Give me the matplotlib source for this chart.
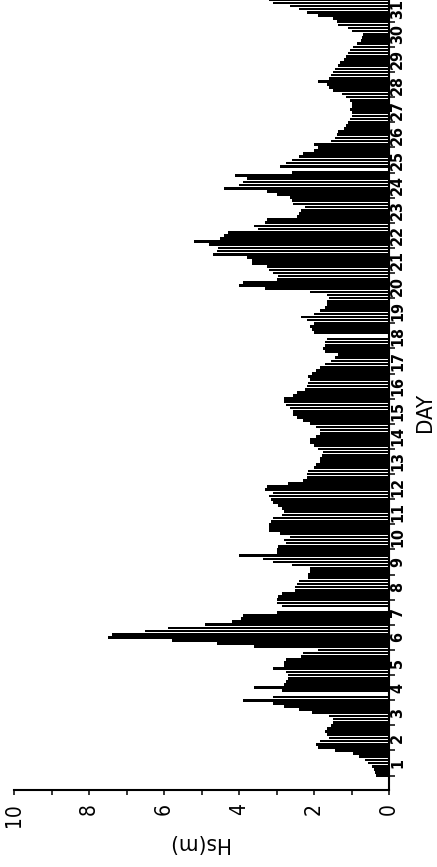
import numpy as np
import matplotlib
matplotlib.use('Agg')
import matplotlib.pyplot as plt
from matplotlib import font_manager as fm

# 3-hourly significant wave height Hs (m), 8 readings per day, days 1..31
day01 = [0.35, 0.38, 0.40, 0.45, 0.55, 0.65, 0.80, 0.95]
day02 = [1.45, 1.90, 1.95, 1.85, 1.60, 1.65, 1.70, 1.65]
day03 = [1.55, 1.50, 1.50, 1.60, 2.05, 2.40, 2.80, 3.10]
day04 = [3.90, 3.10, 0.00, 2.85, 3.60, 2.80, 2.75, 2.70]
day05 = [2.70, 2.75, 3.10, 2.80, 2.80, 2.75, 2.35, 2.30]
day06 = [1.90, 3.60, 4.60, 5.80, 7.50, 7.40, 6.50, 5.90]
day07 = [4.90, 4.20, 3.95, 3.90, 3.00, 0.00, 2.85, 3.00]
day08 = [3.00, 2.95, 2.85, 2.50, 2.50, 2.45, 2.40, 2.15]
day09 = [2.15, 2.10, 2.10, 2.60, 3.10, 3.35, 4.00, 3.00]
day10 = [3.00, 2.95, 2.75, 2.80, 2.65, 2.90, 3.20, 3.20]
day11 = [3.20, 3.15, 3.10, 2.85, 2.80, 2.85, 2.95, 3.10]
day12 = [3.15, 3.20, 3.10, 3.30, 3.25, 2.70, 2.30, 2.20]
day13 = [2.20, 2.15, 2.00, 1.95, 1.85, 1.85, 1.80, 1.75]
day14 = [1.90, 2.00, 2.10, 2.10, 1.95, 1.85, 1.85, 1.95]
day15 = [2.10, 2.30, 2.45, 2.55, 2.55, 2.65, 2.75, 2.80]
day16 = [2.80, 2.55, 2.45, 2.25, 2.20, 2.15, 2.10, 2.15]
day17 = [2.05, 1.95, 1.85, 1.70, 1.55, 1.45, 1.35, 1.70]
day18 = [1.75, 1.70, 1.70, 1.65, 0.00, 2.00, 2.05, 2.10]
day19 = [2.00, 2.20, 2.35, 2.00, 1.85, 1.70, 1.65, 1.65]
day20 = [1.60, 1.65, 2.10, 3.30, 4.00, 3.90, 3.00, 2.95]
day21 = [3.10, 3.20, 3.25, 3.65, 3.65, 3.80, 4.70, 4.60]
day22 = [4.55, 4.80, 5.20, 4.50, 4.40, 4.30, 3.50, 3.60]
day23 = [3.30, 3.25, 2.45, 2.40, 2.35, 2.25, 2.55, 2.60]
day24 = [2.65, 3.00, 3.25, 4.40, 4.00, 3.90, 3.80, 4.10]
day25 = [2.60, 0.00, 2.90, 2.75, 2.60, 2.40, 2.30, 2.00]
day26 = [1.90, 2.00, 1.55, 1.45, 1.40, 1.35, 1.20, 1.15]
day27 = [1.10, 1.05, 1.00, 1.00, 1.05, 1.00, 1.00, 1.05]
day28 = [1.15, 1.25, 1.50, 1.60, 1.65, 1.90, 1.60, 1.55]
day29 = [1.50, 1.45, 1.35, 1.30, 1.20, 1.15, 1.10, 1.05]
day30 = [0.95, 0.85, 0.75, 0.72, 0.70, 1.00, 1.10, 1.35]
day31 = [1.40, 1.50, 1.90, 2.20, 2.40, 2.65, 3.10, 3.20]

days = list(range(1, 32))
day_labels = [str(d) for d in days]
hs_ticks = [0, 2, 4, 6, 8, 10]
hs_minor = [1, 3, 5, 7, 9]
hs_labels = ['0', '2', '4', '6', '8', '10']

hs = np.array(day01 + day02 + day03 + day04 + day05 + day06 + day07 + day08 +
              day09 + day10 + day11 + day12 + day13 + day14 + day15 + day16 +
              day17 + day18 + day19 + day20 + day21 + day22 + day23 + day24 +
              day25 + day26 + day27 + day28 + day29 + day30 + day31)
per_day = 8
t = np.arange(len(hs)) / per_day  # time in days from start of day 1

# pick a narrow font if one is installed
entries = fm.fontManager.ttflist
names = {f.name for f in entries}
has_cond = any(f.name == 'DejaVu Sans' and 'condensed' in str(f.stretch) for f in entries)
if 'Liberation Sans Narrow' in names:
    font = dict(family='Liberation Sans Narrow')
    day_size, hs_size, lab_size = 12, 16, 18
elif has_cond:
    font = dict(family='DejaVu Sans', fontstretch='condensed')
    day_size, hs_size, lab_size = 11.5, 15, 16
else:
    font = dict(family='DejaVu Sans')
    day_size, hs_size, lab_size = 9, 14, 15

fig = plt.figure(figsize=(4.37, 8.67), dpi=100)
ax = fig.add_axes([14 / 437, 77 / 867, 375 / 437, 793.4 / 867])

ax.barh(t, hs, height=0.85 / per_day, color='black', linewidth=0)

ax.set_xlim(10, 0)
ax.set_ylim(-0.573, 31.0)

for s in ['left', 'top']:
    ax.spines[s].set_visible(False)
for s in ['bottom', 'right']:
    ax.spines[s].set_linewidth(1.5)

# Hs axis (horizontal, bottom)
ax.set_xticks(hs_ticks, labels=hs_labels, rotation=90, fontsize=hs_size, **font)
ax.set_xticks(hs_minor, minor=True)
ax.tick_params(axis='x', which='both', direction='out', length=3.6, width=1.1, pad=5.8)

# DAY axis (vertical, right)
ax.yaxis.tick_right()
ax.set_yticks(list(range(0, 32)))
ax.set_yticklabels([])
ax.set_yticks([d - 0.5 for d in days], labels=day_labels, minor=True,
              rotation=90, va='center', fontsize=day_size, fontweight='bold', **font)
ax.tick_params(axis='y', which='major', direction='out', length=4.3, width=1.1,
               right=True, left=False)
ax.tick_params(axis='y', which='minor', length=0, pad=0.8, right=True, left=False,
               labelright=True, labelleft=False)

ax.text(1.095, 0.4764, 'DAY', transform=ax.transAxes, rotation=90,
        ha='center', va='center', fontsize=lab_size, **font)
ax.text(0.4907, -0.0668, 'Hs(m)', transform=ax.transAxes, rotation=180,
        ha='center', va='center', fontsize=lab_size, **font)

fig.savefig('out.png', dpi=100)
